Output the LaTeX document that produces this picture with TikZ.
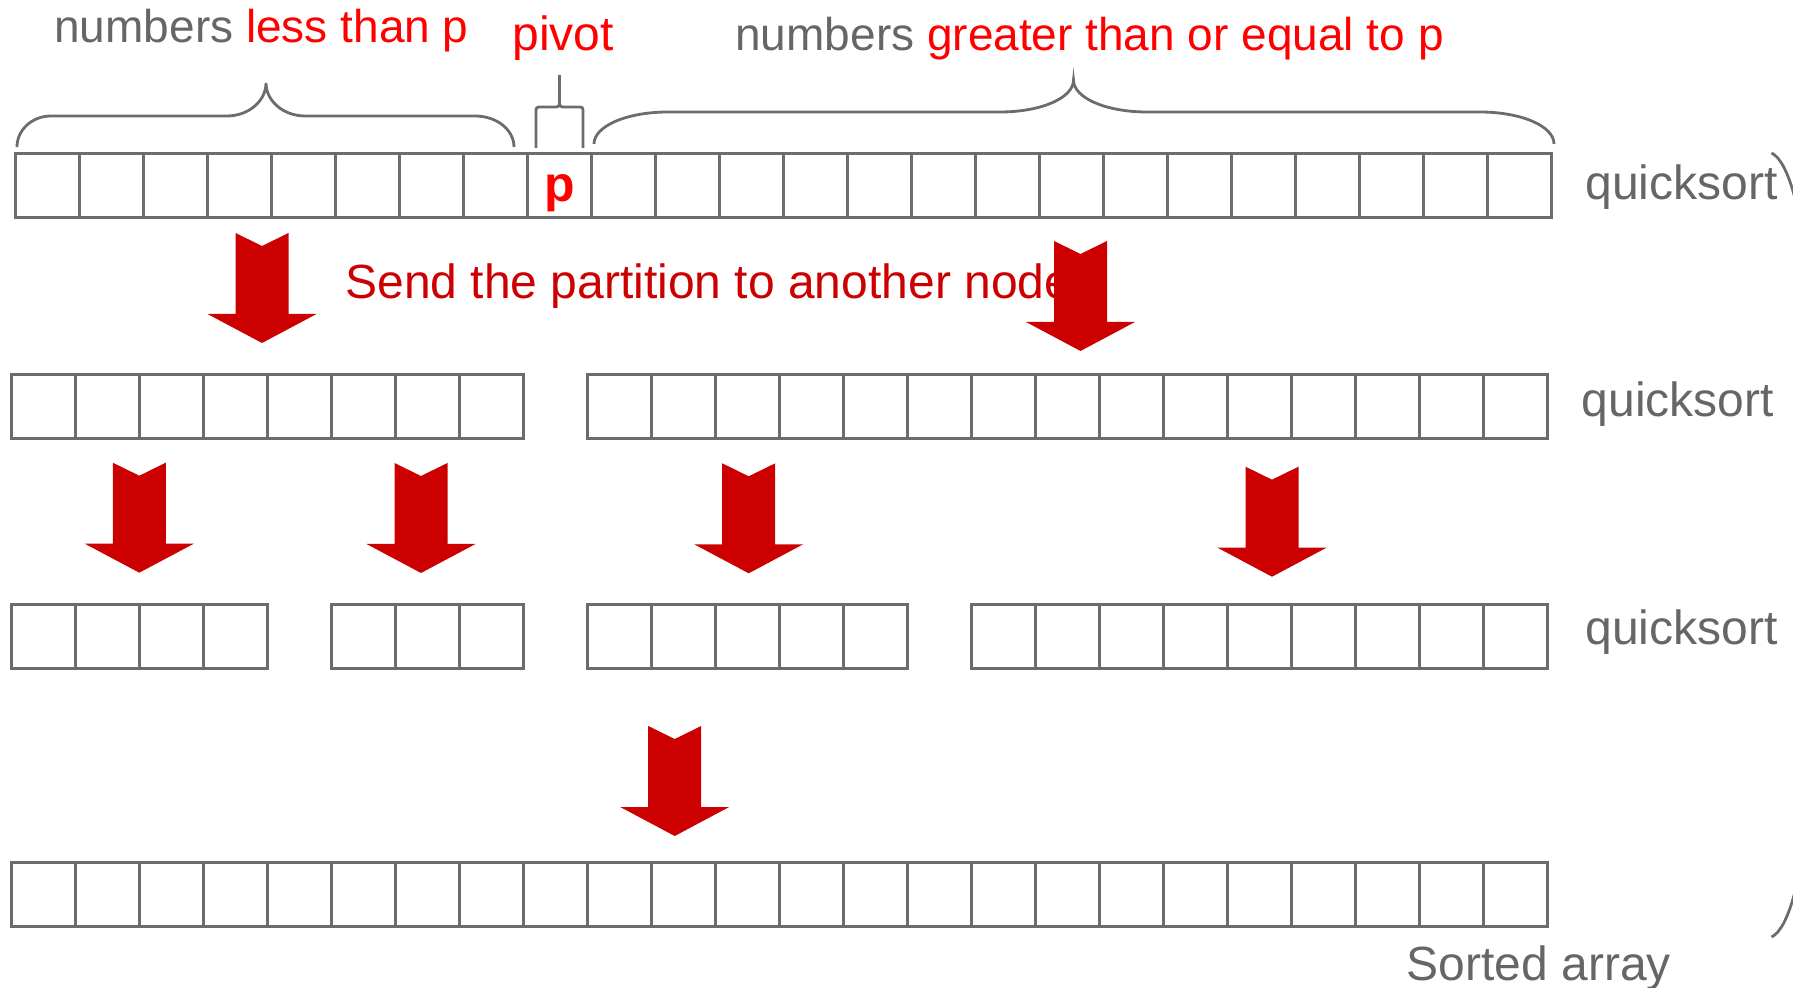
\documentclass[tikz,border=0pt]{standalone}
\usepackage{fontspec}
\setmainfont{Liberation Sans}
\definecolor{cellgray}{RGB}{108,108,108}
\definecolor{textgray}{RGB}{102,102,102}
\definecolor{hotred}{RGB}{255,0,0}
\definecolor{darkred}{RGB}{204,0,0}
\tikzset{cell/.style={draw=cellgray, line width=1.5pt, minimum size=32pt, inner sep=0pt},
         lbl/.style={inner sep=0pt, anchor=base west, text=textgray,
                     font=\fontsize{24}{28}\selectfont},
         brace line/.style={draw=cellgray, line width=1.4pt},
         bigarrow/.pic={\fill[darkred] (-26.5,0) -- (0,13) -- (26.5,0) -- (26.5,81)
                        -- (54.5,81) -- (0,110) -- (-54.5,81) -- (-26.5,81) -- cycle;}
         }
\begin{document}
\begin{tikzpicture}[x=0.5pt,y=-0.5pt]
\useasboundingbox (0,0) rectangle (1793,988);
\clip (0,0) rectangle (1793,988);

% the four rows of the array
\foreach \i in {1,...,24}
  \node[cell] (r1c\i) at ({47.5+64*(\i-1)},186) {};
\foreach \i in {1,...,8}
  \node[cell] (r2c\i) at ({43+64*(\i-1)},407) {};
\foreach \i in {10,...,24}
  \node[cell] (r2c\i) at ({43+64*(\i-1)},407) {};
\foreach \i in {1,...,4}
  \node[cell] (r3c\i) at ({43+64*(\i-1)},636) {};
\foreach \i in {6,...,8}
  \node[cell] (r3c\i) at ({43+64*(\i-1)},636) {};
\foreach \i in {10,...,14}
  \node[cell] (r3c\i) at ({43+64*(\i-1)},636) {};
\foreach \i in {16,...,24}
  \node[cell] (r3c\i) at ({43+64*(\i-1)},636) {};
\foreach \i in {1,...,24}
  \node[cell] (r4c\i) at ({43+64*(\i-1)},894.5) {};

\node[inner sep=0pt, anchor=base, text=hotred, font=\fontsize{25}{28}\selectfont\bfseries]
  (pivotMark) at (559.5,202) {p};

% braces over the first row
\draw[brace line] (17,147) .. controls (17,130) and (32,116) .. (51,116) -- (227,116)
  .. controls (248.5,116) and (266,101) .. (266,83)
  .. controls (266,101) and (283.5,116) .. (305,116) -- (475,116)
  .. controls (497,116) and (514,130) .. (514,147);
\draw[brace line] (536,148) -- (536,113) .. controls (536,107) .. (542,107) -- (553,107)
  .. controls (559.5,107) .. (559.5,100) -- (559.5,75) (559.5,100)
  .. controls (559.5,107) .. (566,107) -- (577,107) .. controls (583,107) .. (583,113) -- (583,148);
\draw[brace line] (594,144) .. controls (594,126) and (627,112) .. (668,112) -- (1000,112)
  .. controls (1041,112) and (1073.5,98) .. (1073.5,80)
  .. controls (1073.5,98) and (1106,112) .. (1147,112) -- (1480,112)
  .. controls (1521,112) and (1554,126) .. (1554,144);

\node[lbl, font=\fontsize{23}{27}\selectfont] (lessText) at (54,43)
  {numbers \textcolor{hotred}{less than p}};
\node[lbl, text=hotred] (pivotText) at (512,50.5) {pivot};
\node[lbl, font=\fontsize{23}{27}\selectfont] (greaterText) at (735,50.5)
  {numbers \textcolor{hotred}{greater than or equal to p}};

\node[lbl, text=darkred] (sendText) at (345,299) {Send the partition to another node};

\node[lbl] (qs1) at (1585,200) {quicksort};
\node[lbl] (qs2) at (1581.5,417) {quicksort};
\node[lbl] (qs3) at (1585,644) {quicksort};
\node[lbl] (sortedText) at (1406.5,980) {Sorted array};

\draw[brace line] (1771.5,153) .. controls (1840,185) and (1840,905) .. (1771.5,937);

% block arrows between the rows
\pic at (262,233) {bigarrow};
\pic at (1080.5,241) {bigarrow};
\pic at (139.3,462.7) {bigarrow};
\pic at (421,463) {bigarrow};
\pic at (748.7,463.3) {bigarrow};
\pic at (1272,466.7) {bigarrow};
\pic at (674.7,726) {bigarrow};
\end{tikzpicture}
\end{document}
